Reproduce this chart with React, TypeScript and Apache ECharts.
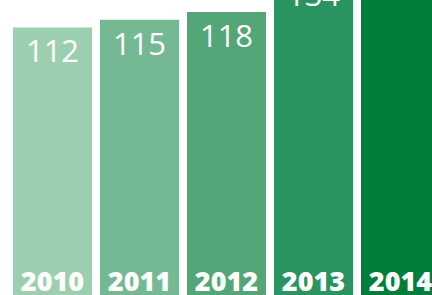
import React, { useEffect, useRef } from "react";
import * as echarts from "echarts";

const years = ["2010", "2011", "2012", "2013", "2014"];
const values = [112, 115, 118, 134, 150];
const colors = ["#9ccfb0", "#74b994", "#52a677", "#2a9460", "#007f3a"];

export default function App() {
  const ref = useRef<HTMLDivElement>(null);
  useEffect(() => {
    if (!ref.current) return;
    const chart = echarts.init(ref.current, undefined, { renderer: "svg" });
    chart.setOption({
      animation: false,
      grid: { left: 9, right: 16, top: 25, bottom: 7 },
      xAxis: {
        type: "category",
        data: years,
        z: 10,
        axisLine: { show: false },
        axisTick: { show: false },
        axisLabel: {
          inside: true,
          margin: 33,
          verticalAlign: "middle",
          color: "#ffffff",
          fontFamily: "Open Sans",
          fontWeight: 800,
          fontSize: 27,
        },
      },
      yAxis: {
        type: "value",
        min: 0,
        max: 160,
        show: false,
        splitLine: { show: false },
      },
      series: [
        {
          type: "bar",
          barWidth: 79,
          data: values.map((v, i) => ({ value: v, itemStyle: { color: colors[i] } })),
          label: {
            show: true,
            position: "insideTop",
            distance: 7,
            color: "#ffffff",
            fontFamily: "Open Sans",
            fontWeight: 400,
            fontSize: 31,
            lineHeight: 32,
          },
        },
      ],
    });
    return () => chart.dispose();
  }, []);
  return (
    <div style={{ position: "fixed", left: 0, top: 0, width: 432, height: 295, overflow: "hidden", background: "#fff" }}>
      <div ref={ref} style={{ position: "absolute", left: 0, top: -120, width: 460, height: 440 }} />
    </div>
  );
}
